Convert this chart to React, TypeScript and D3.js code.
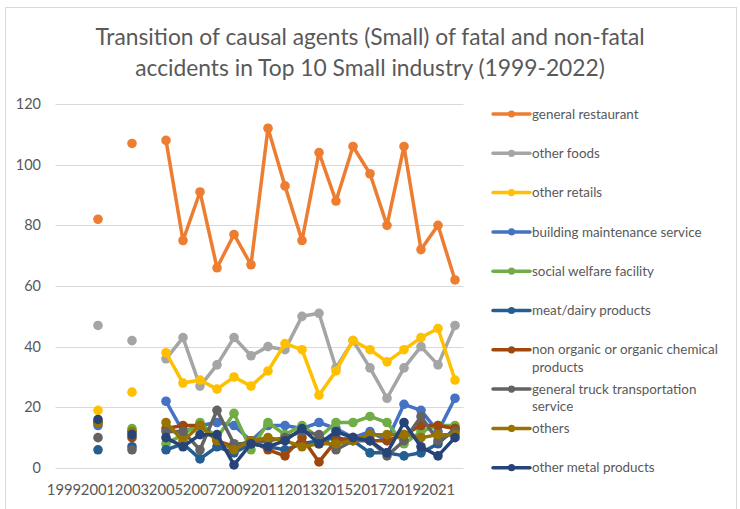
import React from 'react';
import * as d3 from 'd3';

// categories
const years: number[] = [
    1999, 2000, 2001, 2002, 2003, 2004, 2005, 2006, 2007, 2008, 2009, 2010,
    2011, 2012, 2013, 2014, 2015, 2016, 2017, 2018, 2019, 2020, 2021, 2022
];

// tick labels on the category axis (every other year)
const xTickLabels: number[] = [1999, 2001, 2003, 2005, 2007, 2009, 2011, 2013, 2015, 2017, 2019, 2021];
const yTicks: number[] = [0, 20, 40, 60, 80, 100, 120];

const title: string[] = [
    'Transition of causal agents (Small) of fatal and non-fatal',
    'accidents in Top 10 Small industry (1999-2022)'
];

// series values, 1999..2022 (null = no data)
const generalRestaurant = [null, null, 82, null, 107, null, 108, 75, 91, 66, 77, 67, 112, 93, 75, 104, 88, 106, 97, 80, 106, 72, 80, 62];
const otherFoods = [null, null, 47, null, 42, null, 36, 43, 27, 34, 43, 37, 40, 39, 50, 51, 33, 42, 33, 23, 33, 40, 34, 47];
const otherRetails = [null, null, 19, null, 25, null, 38, 28, 29, 26, 30, 27, 32, 41, 39, 24, 32, 42, 39, 35, 39, 43, 46, 29];
const buildingMaintenance = [null, null, 14, null, 12, null, 22, 12, 14, 15, 14, 9, 14, 14, 13, 15, 13, 10, 12, 9, 21, 19, 12, 23];
const socialWelfare = [null, null, 15, null, 13, null, 8, 11, 15, 10, 18, 6, 15, 11, 14, 10, 15, 15, 17, 15, 8, 12, 14, 14];
const meatDairy = [null, null, 6, null, 7, null, 6, 8, 3, 7, 5, 8, 7, 6, 8, 9, 10, 9, 5, 5, 4, 5, 8, 13];
const chemical = [null, null, 15, null, 10, null, 13, 14, 14, 9, 7, 9, 6, 4, 10, 2, 9, 10, 9, 9, 11, 14, 14, 13];
const truckTransport = [null, null, 10, null, 6, null, 12, 12, 6, 19, 8, 8, 9, 10, 12, 11, 6, 9, 9, 4, 9, 17, 9, 12];
const others = [null, null, 15, null, 12, null, 15, 9, 14, 9, 6, 9, 10, 9, 7, 8, 8, 9, 11, 11, 11, 10, 11, 11];
const otherMetal = [null, null, 16, null, 11, null, 10, 7, 11, 11, 1, 8, 7, 9, 13, 8, 12, 10, 9, 5, 15, 7, 4, 10];

const seriesNames: string[] = [
    'general restaurant',
    'other foods',
    'other retails',
    'building maintenance service',
    'social welfare facility',
    'meat/dairy products',
    'non organic or organic chemical products',
    'general truck transportation service',
    'others',
    'other metal products'
];

// legend text as it wraps in the original
const legendLines: string[][] = [
    ['general restaurant'],
    ['other foods'],
    ['other retails'],
    ['building maintenance service'],
    ['social welfare facility'],
    ['meat/dairy products'],
    ['non organic or organic chemical', 'products'],
    ['general truck transportation', 'service'],
    ['others'],
    ['other metal products']
];

const seriesValues: (number | null)[][] = [
    generalRestaurant, otherFoods, otherRetails, buildingMaintenance, socialWelfare,
    meatDairy, chemical, truckTransport, others, otherMetal
];

const colors: string[] = [
    '#ED7D31', '#A5A5A5', '#FFC000', '#4472C4', '#70AD47',
    '#255E91', '#9E480E', '#636363', '#997300', '#264478'
];

type Pt = { year: number; value: number | null };

const WIDTH = 740;
const HEIGHT = 509;
const FONT = 'Lato, "Open Sans", sans-serif';
const TEXT = '#595959';
const GRID = '#D9D9D9';

const App: React.FC = () => {
    const plot = { left: 55.5, right: 463.5, top: 104, bottom: 468 };

    const x = d3.scalePoint<number>()
        .domain(years)
        .range([plot.left, plot.right])
        .padding(0.5);

    const y = d3.scaleLinear()
        .domain([0, 120])
        .range([plot.bottom, plot.top]);

    const line = d3.line<Pt>()
        .defined(d => d.value !== null)
        .x(d => x(d.year) as number)
        .y(d => y(d.value as number));

    const legendX = 493;
    const legendTop = 114;
    const legendStep = 39.3;

    return (
        <div style={{ position: 'absolute', left: 0, top: 0 }}>
            <svg width={WIDTH} height={HEIGHT} style={{ display: 'block', background: '#fff' }}>
                {/* chart border */}
                <rect x={5.5} y={7.5} width={731} height={510} fill="#fff" stroke={GRID} strokeWidth={1} />

                {/* title */}
                {title.map((t, i) => (
                    <text key={i} x={370} y={45 + i * 31} textAnchor="middle"
                        fontFamily={FONT} fontSize={22.8} fill={TEXT}>{t}</text>
                ))}

                {/* gridlines + y labels */}
                {yTicks.map(t => (
                    <g key={t}>
                        <line x1={plot.left} x2={plot.right} y1={Math.round(y(t)) + 0.5} y2={Math.round(y(t)) + 0.5}
                            stroke={GRID} strokeWidth={1} />
                        <text x={41} y={y(t)} dy="0.35em" textAnchor="end"
                            fontFamily={FONT} fontSize={14.5} fill={TEXT}>{t}</text>
                    </g>
                ))}

                {/* x labels */}
                {xTickLabels.map(yr => (
                    <text key={yr} x={x(yr)} y={495} textAnchor="middle"
                        fontFamily={FONT} fontSize={14.8} fill={TEXT}>{yr}</text>
                ))}

                {/* series */}
                {seriesValues.map((vals, si) => {
                    const pts: Pt[] = years.map((yr, i) => ({ year: yr, value: vals[i] }));
                    return (
                        <g key={seriesNames[si]}>
                            <path d={line(pts) || ''} fill="none" stroke={colors[si]} strokeWidth={3.5}
                                strokeLinejoin="round" strokeLinecap="round" />
                            {pts.filter(p => p.value !== null).map(p => (
                                <circle key={p.year} cx={x(p.year)} cy={y(p.value as number)} r={4.8}
                                    fill={colors[si]} />
                            ))}
                        </g>
                    );
                })}

                {/* legend */}
                {legendLines.map((lines, i) => {
                    const cy = legendTop + i * legendStep;
                    return (
                        <g key={seriesNames[i]}>
                            <line x1={legendX} x2={legendX + 37} y1={cy} y2={cy}
                                stroke={colors[i]} strokeWidth={3.5} strokeLinecap="round" />
                            <circle cx={legendX + 18.5} cy={cy} r={3.6} fill={colors[i]} />
                            {lines.map((ln, li) => (
                                <text key={li} x={532} y={cy + li * 17.3} dy="0.35em"
                                    fontFamily={FONT} fontSize={13.4} fill={TEXT}>{ln}</text>
                            ))}
                        </g>
                    );
                })}
            </svg>
        </div>
    );
};

export default App;
